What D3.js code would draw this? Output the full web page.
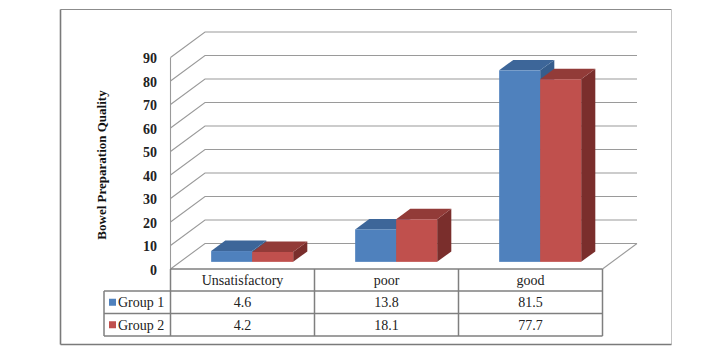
<!DOCTYPE html>
<html><head><meta charset="utf-8">
<script src="https://cdnjs.cloudflare.com/ajax/libs/d3/7.8.5/d3.min.js"></script>
<style>body{margin:0;background:#fff}svg{display:block}</style>
</head><body><svg id="c" width="704" height="355"></svg>
<script>
const categories = ["Unsatisfactory", "poor", "good"];
const seriesNames = ["Group 1", "Group 2"];
const group1 = [4.6, 13.8, 81.5];
const group2 = [4.2, 18.1, 77.7];
const yTicks = [0, 10, 20, 30, 40, 50, 60, 70, 80, 90];

const svg = d3.select("#c");
const serif = "'Liberation Serif','Times New Roman',serif";
const colors = [
  {front:"#4F81BD", top:"#3D6699", side:"#365D8C"},
  {front:"#C0504D", top:"#923B38", side:"#7A2E2C"}
];
const series = [group1, group2];

// geometry
const x0 = 170.5, x1 = 602.5;   // front plane left/right
const depth = [34.5, -25.5];     // full depth vector
const y = d3.scaleLinear().domain([0, 90]).range([269, 57.5]);
const x = d3.scaleBand().domain(categories).range([x0, x1]);
const inner = d3.scaleBand().domain(seriesNames).range([0, 82]);

// outer border
svg.append("line").attr("x1",60.5).attr("y1",9.5).attr("x2",671.5).attr("y2",9.5).attr("stroke","#8c8c8c").attr("stroke-width",1.2);
svg.append("line").attr("x1",671.5).attr("y1",9.5).attr("x2",671.5).attr("y2",344.5).attr("stroke","#c4c4c4").attr("stroke-width",1);
svg.append("line").attr("x1",60.5).attr("y1",9.5).attr("x2",60.5).attr("y2",344.5).attr("stroke","#7a7a7a").attr("stroke-width",1.6);
svg.append("line").attr("x1",60.5).attr("y1",344.5).attr("x2",671.5).attr("y2",344.5).attr("stroke","#7a7a7a").attr("stroke-width",1.6);

// gridlines: left wall diagonals + back horizontals
const grid = svg.append("g").attr("stroke","#9a9a9a").attr("stroke-width",1.1).attr("fill","none");
yTicks.forEach(t => {
  const yy = y(t);
  grid.append("path").attr("d",
    `M${x0},${yy} L${x0+depth[0]},${yy+depth[1]} L${x1+depth[0]},${yy+depth[1]}`);
});
// front-left vertical axis
grid.append("line").attr("x1",x0).attr("y1",y(0)).attr("x2",x0).attr("y2",y(90));
// floor right diagonal
grid.append("line").attr("x1",x1).attr("y1",y(0)).attr("x2",x1+depth[0]).attr("y2",y(0)+depth[1]);

// y tick labels
svg.append("g").selectAll("text").data(yTicks).join("text")
  .attr("x",157).attr("y",d=>y(d)+1).attr("dy","0.35em")
  .attr("text-anchor","end").attr("font-family",serif).attr("font-weight","bold")
  .attr("font-size",14).attr("fill","#222").text(d=>d);

// y axis title
svg.append("text").attr("transform","translate(106,165) rotate(-90)")
  .attr("text-anchor","middle").attr("font-family",serif).attr("font-weight","bold")
  .attr("font-size",13).attr("fill","#111").text("Bowel Preparation Quality");

// bars (oblique 3D)
const f0 = 0.28, fd = 0.41;
const bx = depth[0]*f0, by = depth[1]*f0;
const dx = depth[0]*fd, dy = depth[1]*fd;
const bars = [];
categories.forEach((c, ci) => {
  seriesNames.forEach((s, si) => {
    bars.push({c, s, si, v: series[si][ci]});
  });
});
// draw in order: left to right so right bars overlap properly
const gb = svg.append("g");
bars.forEach(b => {
  const left = x(b.c) + (x.bandwidth()-82)/2 + inner(b.s) + bx;
  const w = inner.bandwidth();
  const base = y(0) + by;
  const top = y(b.v) + by;
  const col = colors[b.si];
  // side
  gb.append("path").attr("fill",col.side)
    .attr("d",`M${left+w},${top} L${left+w+dx},${top+dy} L${left+w+dx},${base+dy} L${left+w},${base}Z`);
  // top
  gb.append("path").attr("fill",col.top)
    .attr("d",`M${left},${top} L${left+dx},${top+dy} L${left+w+dx},${top+dy} L${left+w},${top}Z`);
  // front
  gb.append("rect").attr("x",left).attr("y",top).attr("width",w).attr("height",base-top).attr("fill",col.front);
});

// data table
const rowY = [269, 291, 313.5, 336];
const tb = svg.append("g").attr("stroke","#7f7f7f").attr("stroke-width",1.5).attr("fill","none");
const legendLeft = 104;
// horizontal lines
tb.append("line").attr("x1",x0).attr("x2",x1).attr("y1",rowY[0]).attr("y2",rowY[0]);
[1,2,3].forEach(i => tb.append("line").attr("x1",legendLeft).attr("x2",x1).attr("y1",rowY[i]).attr("y2",rowY[i]));
// vertical lines
tb.append("line").attr("x1",legendLeft).attr("x2",legendLeft).attr("y1",rowY[1]).attr("y2",rowY[3]);
[x0, x(categories[1]), x(categories[2]), x1].forEach(xx =>
  tb.append("line").attr("x1",xx).attr("x2",xx).attr("y1",rowY[0]).attr("y2",rowY[3]));

const txt = svg.append("g").attr("font-family",serif).attr("font-size",14).attr("fill","#222").attr("text-anchor","middle");
categories.forEach((c, ci) => {
  const cx = x(c) + x.bandwidth()/2;
  txt.append("text").attr("x",cx).attr("y",(rowY[0]+rowY[1])/2).attr("dy","0.35em").text(c);
  series.forEach((sv, si) => {
    txt.append("text").attr("x",cx).attr("y",(rowY[si+1]+rowY[si+2])/2).attr("dy","0.35em").text(sv[ci]);
  });
});
seriesNames.forEach((s, si) => {
  const cy = (rowY[si+1]+rowY[si+2])/2;
  svg.append("rect").attr("x",109).attr("y",cy-3.5).attr("width",7).attr("height",7).attr("fill",colors[si].front);
  svg.append("text").attr("x",118).attr("y",cy).attr("dy","0.35em").attr("font-family",serif)
    .attr("font-size",14).attr("fill","#222").text(s);
});
</script></body></html>
